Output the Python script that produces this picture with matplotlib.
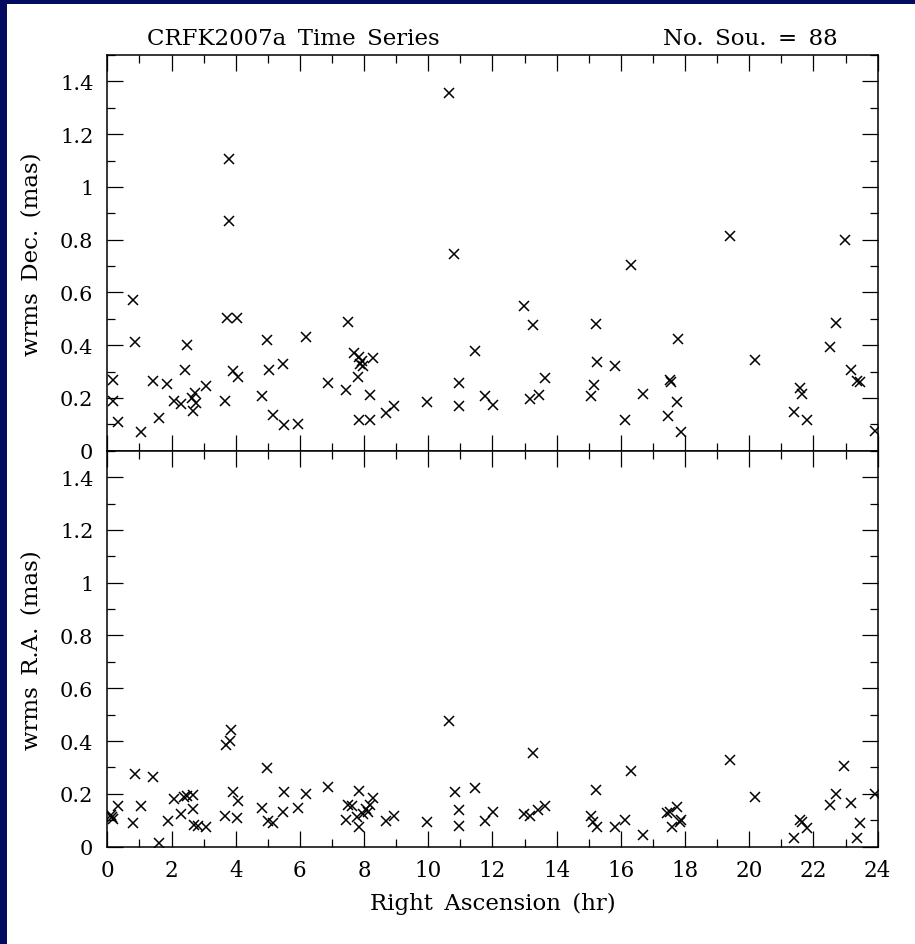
import matplotlib
matplotlib.use("Agg")
import matplotlib.pyplot as plt
from matplotlib.ticker import MultipleLocator, FuncFormatter
from matplotlib.patches import Rectangle

# right ascension (hr) and wrms in declination (mas), upper panel
ra_dec = [0.81, 0.86, 0.19, 0.19, 0.34, 1.04, 1.43, 1.62, 1.87, 2.08,
          2.30, 2.42, 2.49, 2.64, 2.73, 2.76, 2.66, 3.08, 3.67, 3.72,
          4.03, 3.93, 4.06, 3.80, 3.80, 4.83, 4.97, 5.04, 5.15, 5.47,
          5.52, 5.93, 6.18, 6.86, 7.43, 7.49, 7.67, 7.83, 7.93, 7.98,
          7.80, 8.29, 8.17, 7.83, 8.17, 8.68, 8.92, 9.96, 10.63, 10.79,
          10.97, 10.97, 11.46, 11.77, 12.01, 12.97, 13.26, 13.16, 13.46, 13.64,
          15.08, 15.15, 15.23, 15.27, 15.83, 16.14, 16.32, 16.68, 17.54, 17.56,
          17.77, 17.75, 17.46, 17.87, 19.41, 20.19, 21.57, 21.64, 21.38, 21.80,
          22.50, 22.71, 22.97, 23.18, 23.34, 23.44, 23.93, 7.88]
wrms_dec = [0.571, 0.411, 0.269, 0.190, 0.108, 0.072, 0.265, 0.123, 0.253, 0.190,
            0.177, 0.306, 0.402, 0.200, 0.220, 0.180, 0.150, 0.247, 0.190, 0.502,
            0.502, 0.303, 0.278, 1.104, 0.872, 0.206, 0.420, 0.306, 0.137, 0.329,
            0.097, 0.101, 0.430, 0.257, 0.230, 0.487, 0.370, 0.354, 0.341, 0.320,
            0.278, 0.350, 0.211, 0.118, 0.118, 0.143, 0.168, 0.186, 1.357, 0.746,
            0.257, 0.171, 0.379, 0.206, 0.175, 0.550, 0.477, 0.196, 0.211, 0.274,
            0.206, 0.250, 0.480, 0.335, 0.322, 0.118, 0.704, 0.214, 0.268, 0.260,
            0.424, 0.183, 0.133, 0.072, 0.815, 0.344, 0.237, 0.214, 0.146, 0.118,
            0.392, 0.483, 0.800, 0.307, 0.265, 0.259, 0.076, 0.330]

# right ascension (hr) and wrms in R.A. (mas), lower panel
ra_ra = [0.10, 0.19, 0.34, 0.86, 0.81, 1.05, 1.43, 1.62, 1.88, 2.08,
         2.29, 2.39, 2.49, 2.66, 2.66, 2.71, 2.81, 3.08, 3.67, 3.70,
         3.82, 3.85, 3.93, 4.06, 4.03, 4.83, 4.97, 5.02, 5.15, 5.47,
         5.52, 5.93, 6.18, 6.86, 7.43, 7.49, 7.62, 7.83, 7.83, 7.77,
         7.98, 8.07, 8.17, 8.29, 8.12, 8.68, 8.92, 9.96, 10.63, 10.84,
         10.97, 10.97, 11.46, 11.77, 12.01, 12.97, 13.18, 13.26, 13.43, 13.64,
         15.08, 15.13, 15.27, 15.23, 15.81, 16.14, 16.31, 16.68, 17.44, 17.54,
         17.75, 17.59, 17.83, 17.87, 19.41, 20.19, 21.38, 21.57, 21.64, 21.80,
         22.50, 22.71, 22.96, 23.18, 23.34, 23.44, 23.93, 0.14]
wrms_ra = [0.120, 0.105, 0.155, 0.275, 0.089, 0.155, 0.263, 0.014, 0.099, 0.181,
           0.124, 0.190, 0.193, 0.196, 0.143, 0.082, 0.080, 0.076, 0.117, 0.385,
           0.402, 0.442, 0.208, 0.174, 0.109, 0.145, 0.298, 0.099, 0.090, 0.133,
           0.206, 0.145, 0.200, 0.225, 0.102, 0.158, 0.153, 0.212, 0.074, 0.111,
           0.124, 0.143, 0.158, 0.183, 0.130, 0.099, 0.118, 0.095, 0.477, 0.208,
           0.139, 0.080, 0.221, 0.099, 0.133, 0.124, 0.118, 0.355, 0.139, 0.155,
           0.118, 0.095, 0.073, 0.216, 0.073, 0.101, 0.288, 0.044, 0.128, 0.133,
           0.149, 0.076, 0.092, 0.100, 0.329, 0.190, 0.032, 0.102, 0.095, 0.070,
           0.159, 0.200, 0.307, 0.166, 0.033, 0.089, 0.200, 0.112]

plt.rcParams['font.family'] = ['DejaVu Serif', 'DejaVu Sans']
plt.rcParams['font.size'] = 15

SP = '\u2002'  # wider gaps, like the plotting package's spaces
title_left = SP.join(['CRFK2007a', 'Time', 'Series'])
title_right = SP.join(['No.', 'Sou.', '=', '88'])
ylab_top = SP.join(['wrms', 'Dec.', '(mas)'])
ylab_bot = SP.join(['wrms', 'R.A.', '(mas)'])
xlab = SP.join(['Right', 'Ascension', '(hr)'])

fig = plt.figure(figsize=(9.15, 9.45), dpi=100, facecolor='white')
# dark blue strips on the left and top edges
fig.patches.append(Rectangle((0, 0), 7 / 915, 1, transform=fig.transFigure,
                             facecolor='#020b5e', edgecolor='none', zorder=-1))
fig.patches.append(Rectangle((0, 1 - 5 / 945), 1, 5 / 945, transform=fig.transFigure,
                             facecolor='#020b5e', edgecolor='none', zorder=-1))

left = 107.3 / 915
width = 770.4 / 915
ax1 = fig.add_axes([left, 0.522, width, 0.4187])
ax2 = fig.add_axes([left, 0.1030, width, 0.4190], sharex=ax1)

fmt = FuncFormatter(lambda v, p: '%g' % round(v, 2))

for ax in (ax1, ax2):
    ax.set_xlim(0, 24)
    ax.set_ylim(0, 1.5)
    ax.xaxis.set_major_locator(MultipleLocator(2))
    ax.xaxis.set_minor_locator(MultipleLocator(1))
    ax.yaxis.set_major_locator(MultipleLocator(0.2))
    ax.yaxis.set_minor_locator(MultipleLocator(0.1))
    ax.yaxis.set_major_formatter(fmt)
    ax.xaxis.set_major_formatter(fmt)
    ax.tick_params(which='both', direction='in', top=True, right=True,
                   width=0.9, color='black')
    ax.tick_params(which='major', length=11.5)
    ax.tick_params(which='minor', length=5.8)
    ax.tick_params(axis='y', pad=10, labelsize=15)
    ax.tick_params(axis='x', pad=9, labelsize=15.5)
    for s in ax.spines.values():
        s.set_linewidth(1.1)

ax1.tick_params(axis='x', labelbottom=False)

ax1.plot(ra_dec, wrms_dec, 'x', color='black', markersize=7.5, markeredgewidth=1.1)
ax2.plot(ra_ra, wrms_ra, 'x', color='black', markersize=7.5, markeredgewidth=1.1)

ax1.text(0.0515, 1.028, title_left, transform=ax1.transAxes,
         ha='left', va='baseline', fontsize=16.5)
ax1.text(0.948, 1.028, title_right, transform=ax1.transAxes,
         ha='right', va='baseline', fontsize=16.5)

fig.text(32 / 915, 1 - 254 / 945, ylab_top, rotation=90,
         ha='center', va='center', fontsize=16.5)
fig.text(32 / 915, 1 - 650 / 945, ylab_bot, rotation=90,
         ha='center', va='center', fontsize=16.5)
fig.text(492.5 / 915, 1 - 910 / 945, xlab,
         ha='center', va='baseline', fontsize=16.5)

fig.savefig('out.png', dpi=100, facecolor=fig.get_facecolor())
